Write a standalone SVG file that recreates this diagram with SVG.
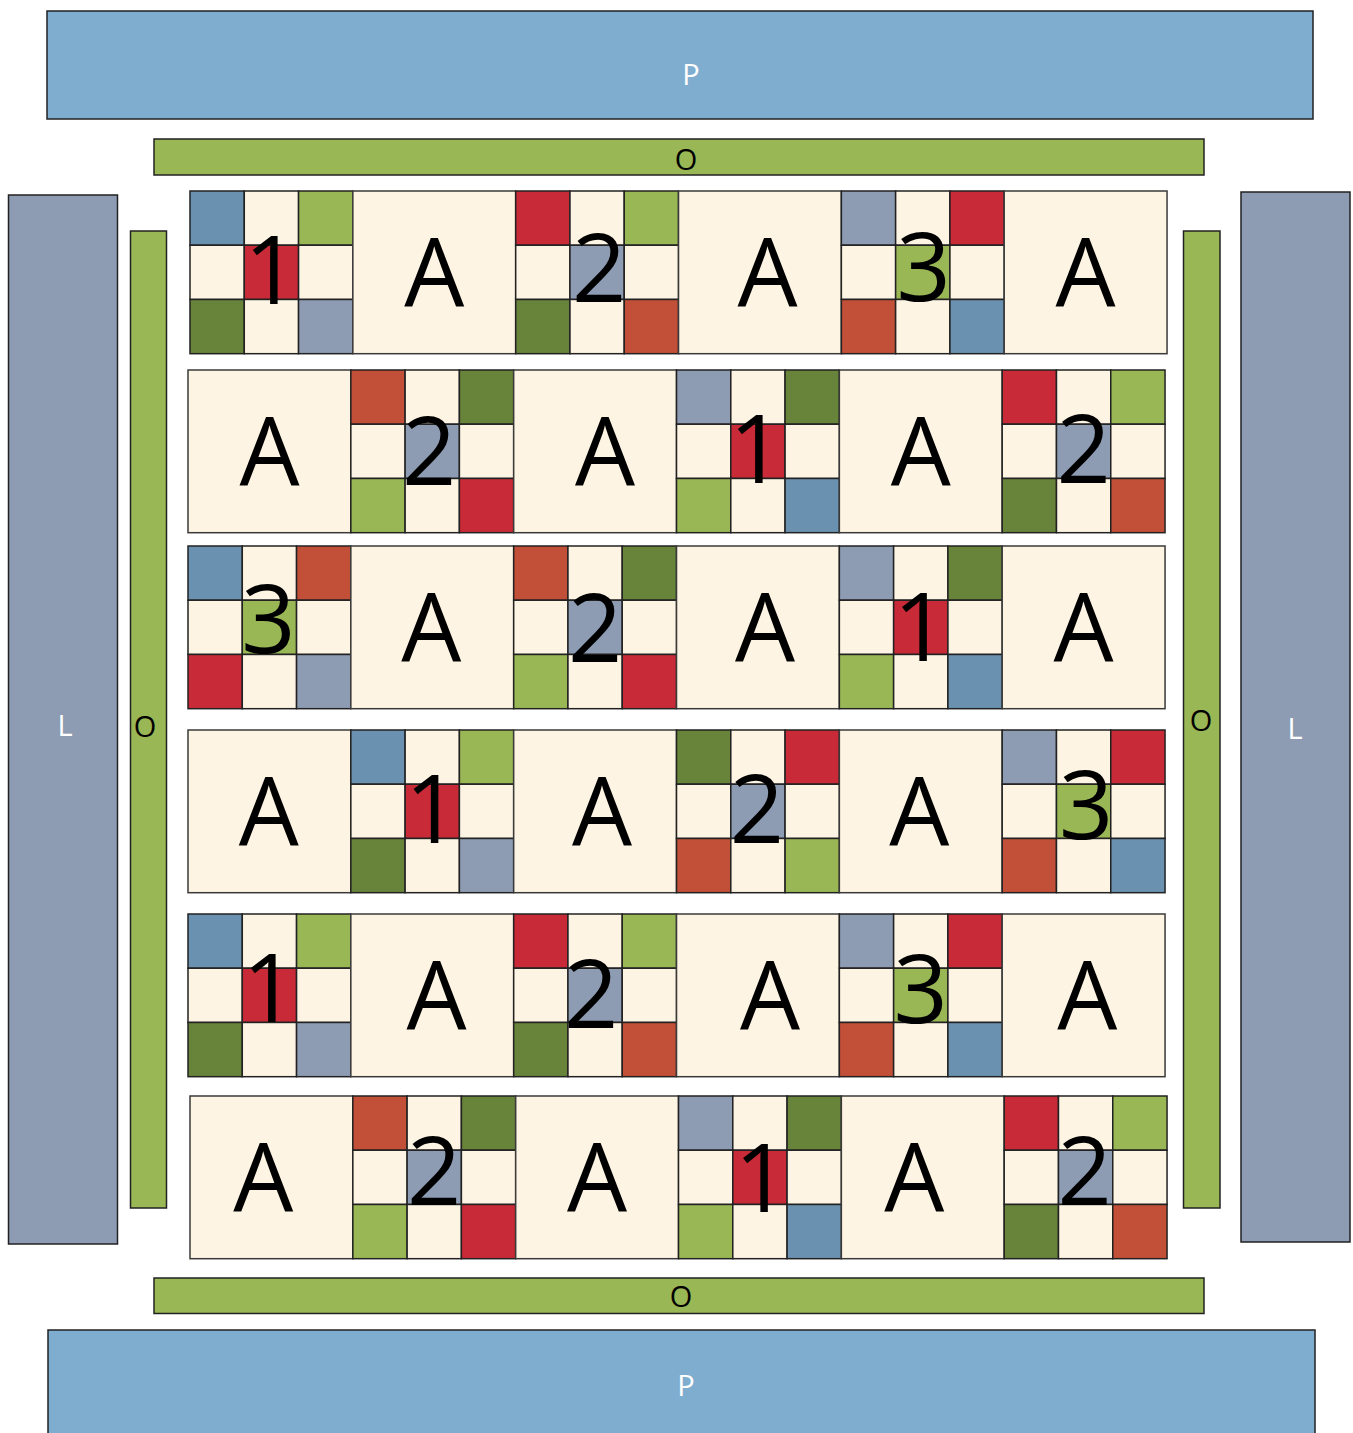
<svg xmlns="http://www.w3.org/2000/svg" width="1353" height="1433" viewBox="0 0 1353 1433">
<style>
rect{stroke:#222;stroke-width:1.5}
.cr{fill:#FEF4E3}
.bl{fill:#6A92B0}
.lg{fill:#9AB755}
.rd{fill:#C82A37}
.dg{fill:#68833A}
.sl{fill:#8D9CB3}
.ru{fill:#C24F37}
.pb{fill:#7FADD0}
.blk{stroke:#3a3a3a;stroke-width:1.5}
text{font-family:"Open Sans","Noto Sans","DejaVu Sans",sans-serif;text-anchor:middle}
.big{font-size:95px;fill:#000}
.lbl{font-size:29px}
.w{fill:#fff}
.k{fill:#000}
</style>

<g id="P-top"><rect class="pb" x="47" y="11" width="1266" height="108"/><text class="lbl w" x="691" y="85">P</text></g>
<g id="O-top"><rect class="lg" x="154" y="139" width="1050" height="36"/><text class="lbl k" x="686" y="170">O</text></g>
<g id="L-left"><rect class="sl" x="8.5" y="195" width="109" height="1049"/><text class="lbl w" x="65" y="736">L</text></g>
<g id="O-left"><rect class="lg" x="130.5" y="231" width="36" height="977"/><text class="lbl k" x="145" y="737">O</text></g>
<g id="O-right"><rect class="lg" x="1183.5" y="231" width="36.5" height="977"/><text class="lbl k" x="1201" y="731">O</text></g>
<g id="L-right"><rect class="sl" x="1241" y="192" width="109" height="1050"/><text class="lbl w" x="1295" y="739">L</text></g>
<g id="O-bottom"><rect class="lg" x="154" y="1278" width="1050" height="35.5"/><text class="lbl k" x="681" y="1307">O</text></g>
<g id="P-bottom"><rect class="pb" x="48" y="1330" width="1267" height="120"/><text class="lbl w" x="686" y="1396">P</text></g>

<!-- Row 1 -->
<g id="r1b1" transform="translate(190,191)">
<rect class="bl" x="0" y="0" width="54.28" height="54.23"/><rect class="cr" x="54.28" y="0" width="54.28" height="54.23"/><rect class="lg" x="108.56" y="0" width="54.28" height="54.23"/>
<rect class="cr" x="0" y="54.23" width="54.28" height="54.23"/><rect class="rd" x="54.28" y="54.23" width="54.28" height="54.23"/><rect class="cr" x="108.56" y="54.23" width="54.28" height="54.23"/>
<rect class="dg" x="0" y="108.46" width="54.28" height="54.23"/><rect class="cr" x="54.28" y="108.46" width="54.28" height="54.23"/><rect class="sl" x="108.56" y="108.46" width="54.28" height="54.23"/>
<text class="big" x="81.42" y="113">1</text></g>
<g id="r1b2" transform="translate(352.84,191)"><rect class="cr blk" x="0" y="0" width="162.84" height="162.7"/><text class="big" x="81.42" y="115.5">A</text></g>
<g id="r1b3" transform="translate(515.68,191)">
<rect class="rd" x="0" y="0" width="54.28" height="54.23"/><rect class="cr" x="54.28" y="0" width="54.28" height="54.23"/><rect class="lg" x="108.56" y="0" width="54.28" height="54.23"/>
<rect class="cr" x="0" y="54.23" width="54.28" height="54.23"/><rect class="sl" x="54.28" y="54.23" width="54.28" height="54.23"/><rect class="cr" x="108.56" y="54.23" width="54.28" height="54.23"/>
<rect class="dg" x="0" y="108.46" width="54.28" height="54.23"/><rect class="cr" x="54.28" y="108.46" width="54.28" height="54.23"/><rect class="ru" x="108.56" y="108.46" width="54.28" height="54.23"/>
<text class="big" x="83.4" y="110.5">2</text></g>
<g id="r1b4" transform="translate(678.52,191)"><rect class="cr blk" x="0" y="0" width="162.84" height="162.7"/><text class="big" x="88.9" y="115.5">A</text></g>
<g id="r1b5" transform="translate(841.36,191)">
<rect class="sl" x="0" y="0" width="54.28" height="54.23"/><rect class="cr" x="54.28" y="0" width="54.28" height="54.23"/><rect class="rd" x="108.56" y="0" width="54.28" height="54.23"/>
<rect class="cr" x="0" y="54.23" width="54.28" height="54.23"/><rect class="lg" x="54.28" y="54.23" width="54.28" height="54.23"/><rect class="cr" x="108.56" y="54.23" width="54.28" height="54.23"/>
<rect class="ru" x="0" y="108.46" width="54.28" height="54.23"/><rect class="cr" x="54.28" y="108.46" width="54.28" height="54.23"/><rect class="bl" x="108.56" y="108.46" width="54.28" height="54.23"/>
<text class="big" x="82.4" y="110">3</text></g>
<g id="r1b6" transform="translate(1004.2,191)"><rect class="cr blk" x="0" y="0" width="162.84" height="162.7"/><text class="big" x="81.42" y="115.5">A</text></g>

<!-- Row 2 -->
<g id="r2b1" transform="translate(188,370)"><rect class="cr blk" x="0" y="0" width="162.84" height="162.7"/><text class="big" x="81.42" y="115.5">A</text></g>
<g id="r2b2" transform="translate(350.84,370)">
<rect class="ru" x="0" y="0" width="54.28" height="54.23"/><rect class="cr" x="54.28" y="0" width="54.28" height="54.23"/><rect class="dg" x="108.56" y="0" width="54.28" height="54.23"/>
<rect class="cr" x="0" y="54.23" width="54.28" height="54.23"/><rect class="sl" x="54.28" y="54.23" width="54.28" height="54.23"/><rect class="cr" x="108.56" y="54.23" width="54.28" height="54.23"/>
<rect class="lg" x="0" y="108.46" width="54.28" height="54.23"/><rect class="cr" x="54.28" y="108.46" width="54.28" height="54.23"/><rect class="rd" x="108.56" y="108.46" width="54.28" height="54.23"/>
<text class="big" x="78.4" y="115">2</text></g>
<g id="r2b3" transform="translate(513.68,370)"><rect class="cr blk" x="0" y="0" width="162.84" height="162.7"/><text class="big" x="91.4" y="115.5">A</text></g>
<g id="r2b4" transform="translate(676.52,370)">
<rect class="sl" x="0" y="0" width="54.28" height="54.23"/><rect class="cr" x="54.28" y="0" width="54.28" height="54.23"/><rect class="dg" x="108.56" y="0" width="54.28" height="54.23"/>
<rect class="cr" x="0" y="54.23" width="54.28" height="54.23"/><rect class="rd" x="54.28" y="54.23" width="54.28" height="54.23"/><rect class="cr" x="108.56" y="54.23" width="54.28" height="54.23"/>
<rect class="lg" x="0" y="108.46" width="54.28" height="54.23"/><rect class="cr" x="54.28" y="108.46" width="54.28" height="54.23"/><rect class="bl" x="108.56" y="108.46" width="54.28" height="54.23"/>
<text class="big" x="80" y="113">1</text></g>
<g id="r2b5" transform="translate(839.36,370)"><rect class="cr blk" x="0" y="0" width="162.84" height="162.7"/><text class="big" x="81.42" y="115.5">A</text></g>
<g id="r2b6" transform="translate(1002.2,370)">
<rect class="rd" x="0" y="0" width="54.28" height="54.23"/><rect class="cr" x="54.28" y="0" width="54.28" height="54.23"/><rect class="lg" x="108.56" y="0" width="54.28" height="54.23"/>
<rect class="cr" x="0" y="54.23" width="54.28" height="54.23"/><rect class="sl" x="54.28" y="54.23" width="54.28" height="54.23"/><rect class="cr" x="108.56" y="54.23" width="54.28" height="54.23"/>
<rect class="dg" x="0" y="108.46" width="54.28" height="54.23"/><rect class="cr" x="54.28" y="108.46" width="54.28" height="54.23"/><rect class="ru" x="108.56" y="108.46" width="54.28" height="54.23"/>
<text class="big" x="81.42" y="113">2</text></g>

<!-- Row 3 -->
<g id="r3b1" transform="translate(188,546)">
<rect class="bl" x="0" y="0" width="54.28" height="54.23"/><rect class="cr" x="54.28" y="0" width="54.28" height="54.23"/><rect class="ru" x="108.56" y="0" width="54.28" height="54.23"/>
<rect class="cr" x="0" y="54.23" width="54.28" height="54.23"/><rect class="lg" x="54.28" y="54.23" width="54.28" height="54.23"/><rect class="cr" x="108.56" y="54.23" width="54.28" height="54.23"/>
<rect class="rd" x="0" y="108.46" width="54.28" height="54.23"/><rect class="cr" x="54.28" y="108.46" width="54.28" height="54.23"/><rect class="sl" x="108.56" y="108.46" width="54.28" height="54.23"/>
<text class="big" x="80.4" y="107">3</text></g>
<g id="r3b2" transform="translate(350.84,546)"><rect class="cr blk" x="0" y="0" width="162.84" height="162.7"/><text class="big" x="80.4" y="115.5">A</text></g>
<g id="r3b3" transform="translate(513.68,546)">
<rect class="ru" x="0" y="0" width="54.28" height="54.23"/><rect class="cr" x="54.28" y="0" width="54.28" height="54.23"/><rect class="dg" x="108.56" y="0" width="54.28" height="54.23"/>
<rect class="cr" x="0" y="54.23" width="54.28" height="54.23"/><rect class="sl" x="54.28" y="54.23" width="54.28" height="54.23"/><rect class="cr" x="108.56" y="54.23" width="54.28" height="54.23"/>
<rect class="lg" x="0" y="108.46" width="54.28" height="54.23"/><rect class="cr" x="54.28" y="108.46" width="54.28" height="54.23"/><rect class="rd" x="108.56" y="108.46" width="54.28" height="54.23"/>
<text class="big" x="81.42" y="115.5">2</text></g>
<g id="r3b4" transform="translate(676.52,546)"><rect class="cr blk" x="0" y="0" width="162.84" height="162.7"/><text class="big" x="88.4" y="115.5">A</text></g>
<g id="r3b5" transform="translate(839.36,546)">
<rect class="sl" x="0" y="0" width="54.28" height="54.23"/><rect class="cr" x="54.28" y="0" width="54.28" height="54.23"/><rect class="dg" x="108.56" y="0" width="54.28" height="54.23"/>
<rect class="cr" x="0" y="54.23" width="54.28" height="54.23"/><rect class="rd" x="54.28" y="54.23" width="54.28" height="54.23"/><rect class="cr" x="108.56" y="54.23" width="54.28" height="54.23"/>
<rect class="lg" x="0" y="108.46" width="54.28" height="54.23"/><rect class="cr" x="54.28" y="108.46" width="54.28" height="54.23"/><rect class="bl" x="108.56" y="108.46" width="54.28" height="54.23"/>
<text class="big" x="81.42" y="115">1</text></g>
<g id="r3b6" transform="translate(1002.2,546)"><rect class="cr blk" x="0" y="0" width="162.84" height="162.7"/><text class="big" x="81.42" y="115.5">A</text></g>

<!-- Row 4 -->
<g id="r4b1" transform="translate(188,730)"><rect class="cr blk" x="0" y="0" width="162.84" height="162.7"/><text class="big" x="80.7" y="115.5">A</text></g>
<g id="r4b2" transform="translate(350.84,730)">
<rect class="bl" x="0" y="0" width="54.28" height="54.23"/><rect class="cr" x="54.28" y="0" width="54.28" height="54.23"/><rect class="lg" x="108.56" y="0" width="54.28" height="54.23"/>
<rect class="cr" x="0" y="54.23" width="54.28" height="54.23"/><rect class="rd" x="54.28" y="54.23" width="54.28" height="54.23"/><rect class="cr" x="108.56" y="54.23" width="54.28" height="54.23"/>
<rect class="dg" x="0" y="108.46" width="54.28" height="54.23"/><rect class="cr" x="54.28" y="108.46" width="54.28" height="54.23"/><rect class="sl" x="108.56" y="108.46" width="54.28" height="54.23"/>
<text class="big" x="81.42" y="113">1</text></g>
<g id="r4b3" transform="translate(513.68,730)"><rect class="cr blk" x="0" y="0" width="162.84" height="162.7"/><text class="big" x="88.4" y="115.5">A</text></g>
<g id="r4b4" transform="translate(676.52,730)">
<rect class="dg" x="0" y="0" width="54.28" height="54.23"/><rect class="cr" x="54.28" y="0" width="54.28" height="54.23"/><rect class="rd" x="108.56" y="0" width="54.28" height="54.23"/>
<rect class="cr" x="0" y="54.23" width="54.28" height="54.23"/><rect class="sl" x="54.28" y="54.23" width="54.28" height="54.23"/><rect class="cr" x="108.56" y="54.23" width="54.28" height="54.23"/>
<rect class="ru" x="0" y="108.46" width="54.28" height="54.23"/><rect class="cr" x="54.28" y="108.46" width="54.28" height="54.23"/><rect class="lg" x="108.56" y="108.46" width="54.28" height="54.23"/>
<text class="big" x="80.4" y="112.5">2</text></g>
<g id="r4b5" transform="translate(839.36,730)"><rect class="cr blk" x="0" y="0" width="162.84" height="162.7"/><text class="big" x="79.9" y="115.5">A</text></g>
<g id="r4b6" transform="translate(1002.2,730)">
<rect class="sl" x="0" y="0" width="54.28" height="54.23"/><rect class="cr" x="54.28" y="0" width="54.28" height="54.23"/><rect class="rd" x="108.56" y="0" width="54.28" height="54.23"/>
<rect class="cr" x="0" y="54.23" width="54.28" height="54.23"/><rect class="lg" x="54.28" y="54.23" width="54.28" height="54.23"/><rect class="cr" x="108.56" y="54.23" width="54.28" height="54.23"/>
<rect class="ru" x="0" y="108.46" width="54.28" height="54.23"/><rect class="cr" x="54.28" y="108.46" width="54.28" height="54.23"/><rect class="bl" x="108.56" y="108.46" width="54.28" height="54.23"/>
<text class="big" x="83.9" y="109">3</text></g>

<!-- Row 5 -->
<g id="r5b1" transform="translate(188,914)">
<rect class="bl" x="0" y="0" width="54.28" height="54.23"/><rect class="cr" x="54.28" y="0" width="54.28" height="54.23"/><rect class="lg" x="108.56" y="0" width="54.28" height="54.23"/>
<rect class="cr" x="0" y="54.23" width="54.28" height="54.23"/><rect class="rd" x="54.28" y="54.23" width="54.28" height="54.23"/><rect class="cr" x="108.56" y="54.23" width="54.28" height="54.23"/>
<rect class="dg" x="0" y="108.46" width="54.28" height="54.23"/><rect class="cr" x="54.28" y="108.46" width="54.28" height="54.23"/><rect class="sl" x="108.56" y="108.46" width="54.28" height="54.23"/>
<text class="big" x="81.42" y="107.5">1</text></g>
<g id="r5b2" transform="translate(350.84,914)"><rect class="cr blk" x="0" y="0" width="162.84" height="162.7"/><text class="big" x="85.8" y="115.5">A</text></g>
<g id="r5b3" transform="translate(513.68,914)">
<rect class="rd" x="0" y="0" width="54.28" height="54.23"/><rect class="cr" x="54.28" y="0" width="54.28" height="54.23"/><rect class="lg" x="108.56" y="0" width="54.28" height="54.23"/>
<rect class="cr" x="0" y="54.23" width="54.28" height="54.23"/><rect class="sl" x="54.28" y="54.23" width="54.28" height="54.23"/><rect class="cr" x="108.56" y="54.23" width="54.28" height="54.23"/>
<rect class="dg" x="0" y="108.46" width="54.28" height="54.23"/><rect class="cr" x="54.28" y="108.46" width="54.28" height="54.23"/><rect class="ru" x="108.56" y="108.46" width="54.28" height="54.23"/>
<text class="big" x="77.4" y="113.5">2</text></g>
<g id="r5b4" transform="translate(676.52,914)"><rect class="cr blk" x="0" y="0" width="162.84" height="162.7"/><text class="big" x="93.4" y="115.5">A</text></g>
<g id="r5b5" transform="translate(839.36,914)">
<rect class="sl" x="0" y="0" width="54.28" height="54.23"/><rect class="cr" x="54.28" y="0" width="54.28" height="54.23"/><rect class="rd" x="108.56" y="0" width="54.28" height="54.23"/>
<rect class="cr" x="0" y="54.23" width="54.28" height="54.23"/><rect class="lg" x="54.28" y="54.23" width="54.28" height="54.23"/><rect class="cr" x="108.56" y="54.23" width="54.28" height="54.23"/>
<rect class="ru" x="0" y="108.46" width="54.28" height="54.23"/><rect class="cr" x="54.28" y="108.46" width="54.28" height="54.23"/><rect class="bl" x="108.56" y="108.46" width="54.28" height="54.23"/>
<text class="big" x="81.42" y="109">3</text></g>
<g id="r5b6" transform="translate(1002.2,914)"><rect class="cr blk" x="0" y="0" width="162.84" height="162.7"/><text class="big" x="85.1" y="115.5">A</text></g>

<!-- Row 6 -->
<g id="r6b1" transform="translate(190,1096)"><rect class="cr blk" x="0" y="0" width="162.84" height="162.7"/><text class="big" x="73.4" y="115.5">A</text></g>
<g id="r6b2" transform="translate(352.84,1096)">
<rect class="ru" x="0" y="0" width="54.28" height="54.23"/><rect class="cr" x="54.28" y="0" width="54.28" height="54.23"/><rect class="dg" x="108.56" y="0" width="54.28" height="54.23"/>
<rect class="cr" x="0" y="54.23" width="54.28" height="54.23"/><rect class="sl" x="54.28" y="54.23" width="54.28" height="54.23"/><rect class="cr" x="108.56" y="54.23" width="54.28" height="54.23"/>
<rect class="lg" x="0" y="108.46" width="54.28" height="54.23"/><rect class="cr" x="54.28" y="108.46" width="54.28" height="54.23"/><rect class="rd" x="108.56" y="108.46" width="54.28" height="54.23"/>
<text class="big" x="81.42" y="109">2</text></g>
<g id="r6b3" transform="translate(515.68,1096)"><rect class="cr blk" x="0" y="0" width="162.84" height="162.7"/><text class="big" x="81.42" y="115.5">A</text></g>
<g id="r6b4" transform="translate(678.52,1096)">
<rect class="sl" x="0" y="0" width="54.28" height="54.23"/><rect class="cr" x="54.28" y="0" width="54.28" height="54.23"/><rect class="dg" x="108.56" y="0" width="54.28" height="54.23"/>
<rect class="cr" x="0" y="54.23" width="54.28" height="54.23"/><rect class="rd" x="54.28" y="54.23" width="54.28" height="54.23"/><rect class="cr" x="108.56" y="54.23" width="54.28" height="54.23"/>
<rect class="lg" x="0" y="108.46" width="54.28" height="54.23"/><rect class="cr" x="54.28" y="108.46" width="54.28" height="54.23"/><rect class="bl" x="108.56" y="108.46" width="54.28" height="54.23"/>
<text class="big" x="83.1" y="115.5">1</text></g>
<g id="r6b5" transform="translate(841.36,1096)"><rect class="cr blk" x="0" y="0" width="162.84" height="162.7"/><text class="big" x="72.9" y="115.5">A</text></g>
<g id="r6b6" transform="translate(1004.2,1096)">
<rect class="rd" x="0" y="0" width="54.28" height="54.23"/><rect class="cr" x="54.28" y="0" width="54.28" height="54.23"/><rect class="lg" x="108.56" y="0" width="54.28" height="54.23"/>
<rect class="cr" x="0" y="54.23" width="54.28" height="54.23"/><rect class="sl" x="54.28" y="54.23" width="54.28" height="54.23"/><rect class="cr" x="108.56" y="54.23" width="54.28" height="54.23"/>
<rect class="dg" x="0" y="108.46" width="54.28" height="54.23"/><rect class="cr" x="54.28" y="108.46" width="54.28" height="54.23"/><rect class="ru" x="108.56" y="108.46" width="54.28" height="54.23"/>
<text class="big" x="80.4" y="109">2</text></g>
</svg>
